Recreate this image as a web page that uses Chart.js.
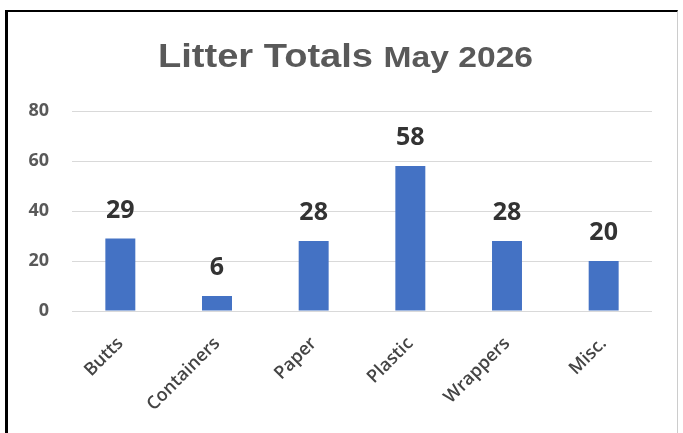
<!DOCTYPE html>
<html>
<head>
<meta charset="utf-8">
<script src="https://cdn.jsdelivr.net/npm/chart.js@4.4.1/dist/chart.umd.min.js"></script>
<style>
  html, body { margin: 0; padding: 0; background: #fff; }
  #frame {
    position: absolute; left: 5px; top: 10px;
    width: 669px; height: 423px;
    border-left: 3px solid #000; border-top: 2px solid #000; border-right: 1px solid #ccc;
    background: #fff;
  }
  #chart { display: block; }
</style>
</head>
<body>
<div id="frame"><canvas id="chart" width="669" height="423"></canvas></div>
<script>
// ========== DATA ==========
const categories = ['Butts', 'Containers', 'Paper', 'Plastic', 'Wrappers', 'Misc.'];
const litterCounts = [29, 6, 28, 58, 28, 20];
const yTicks = [0, 20, 40, 60, 80];

const GREY = '#595959';

// ========== TITLE (two sizes on one line, slightly widened) ==========
const titlePlugin = {
    id: 'mixedTitle',
    afterDraw(chart) {
        const ctx = chart.ctx;
        const big = 'bold 34px "Liberation Sans", Arial, sans-serif';
        const small = 'bold 30px "Liberation Sans", Arial, sans-serif';
        const part1 = 'Litter Totals ';
        const part2 = 'May 2026';
        const stretch = 1.12;
        ctx.save();
        ctx.font = big;
        const w1 = ctx.measureText(part1).width;
        ctx.font = small;
        const w2 = ctx.measureText(part2).width;
        const total = (w1 + w2) * stretch;
        const x0 = chart.width / 2 - total / 2 + 3;
        const baseline = 55;
        ctx.translate(x0, baseline);
        ctx.scale(stretch, 1);
        ctx.fillStyle = GREY;
        ctx.textBaseline = 'alphabetic';
        ctx.textAlign = 'left';
        ctx.font = big;
        ctx.fillText(part1, 0, 0);
        ctx.font = small;
        ctx.fillText(part2, w1, 0);
        ctx.restore();
    }
};

// ========== VALUE LABELS ==========
const valueLabels = {
    id: 'valueLabels',
    afterDatasetsDraw(chart) {
        const ctx = chart.ctx;
        const meta = chart.getDatasetMeta(0);
        ctx.save();
        ctx.font = 'bold 25px "Open Sans", sans-serif';
        ctx.fillStyle = '#333';
        ctx.textAlign = 'center';
        ctx.textBaseline = 'alphabetic';
        meta.data.forEach((bar, i) => {
            ctx.fillText(String(litterCounts[i]), bar.x, bar.y - 21);
        });
        ctx.restore();
    }
};

new Chart(document.getElementById('chart'), {
    type: 'bar',
    data: {
        labels: categories,
        datasets: [{
            data: litterCounts,
            backgroundColor: '#4472c4',
            borderWidth: 0,
            barPercentage: 0.31,
            categoryPercentage: 1
        }]
    },
    options: {
        responsive: false,
        animation: false,
        events: [],
        layout: { padding: { top: 99, right: 25, left: 0, bottom: 0 } },
        plugins: { legend: { display: false }, tooltip: { enabled: false }, title: { display: false } },
        scales: {
            x: {
                grid: { display: false },
                border: { display: false },
                ticks: {
                    color: '#444',
                    font: { family: '"Open Sans", sans-serif', size: 18, weight: '600' },
                    minRotation: 45, maxRotation: 45,
                    padding: 14
                },
                afterFit(scale) { scale.height = 124; }
            },
            y: {
                min: 0, max: 80,
                afterBuildTicks(scale) { scale.ticks = yTicks.map(v => ({ value: v })); },
                grid: { color: '#d9d9d9', drawTicks: false, lineWidth: 1 },
                border: { display: false },
                ticks: {
                    color: GREY,
                    font: { family: '"Open Sans", sans-serif', size: 18, weight: 'bold' },
                    padding: 23
                },
                afterFit(scale) { scale.width = 64; }
            }
        }
    },
    plugins: [titlePlugin, valueLabels]
});
</script>
</body>
</html>
